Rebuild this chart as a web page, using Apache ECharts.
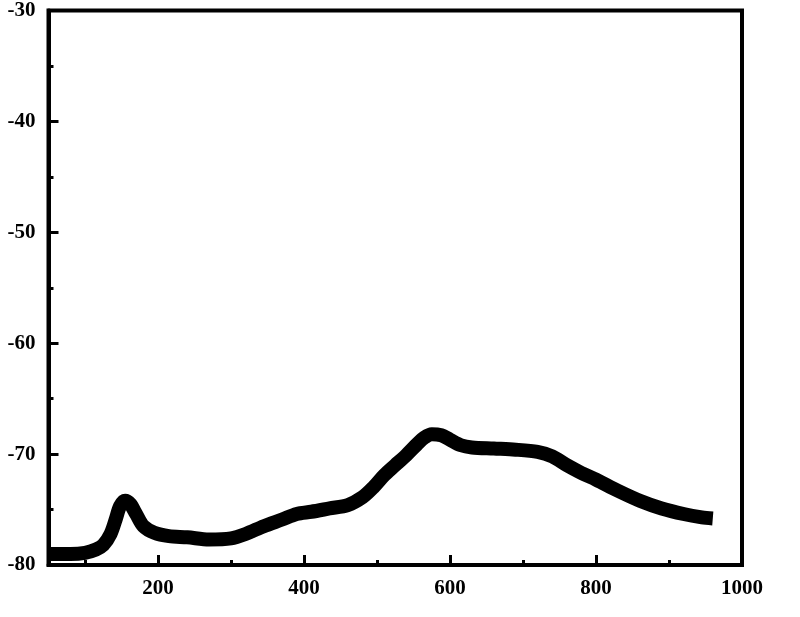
<!DOCTYPE html>
<html>
<head>
<meta charset="utf-8">
<script src="https://cdn.jsdelivr.net/npm/echarts@6/dist/echarts.min.js"></script>
<style>html,body{margin:0;padding:0;background:#fff}#c{width:800px;height:617px}</style>
</head>
<body>
<div id="c"></div>
<script>
const xValues = [50, 80, 100, 115, 125, 135, 142, 148, 155, 162, 170, 180, 195, 215, 240, 270, 300, 320, 345, 370, 390, 410, 435, 460, 480, 495, 510, 525, 540, 555, 565, 575, 588, 600, 615, 630, 660, 690, 720, 740, 760, 780, 800, 830, 860, 890, 920, 945, 960];
const yValues = [-79.0, -79.0, -78.9, -78.6, -78.2, -77.2, -75.9, -74.7, -74.2, -74.5, -75.4, -76.5, -77.1, -77.4, -77.5, -77.7, -77.6, -77.2, -76.5, -75.9, -75.4, -75.2, -74.9, -74.6, -73.9, -73.0, -71.9, -71.0, -70.1, -69.1, -68.5, -68.2, -68.3, -68.7, -69.2, -69.4, -69.5, -69.6, -69.8, -70.2, -71.0, -71.7, -72.3, -73.3, -74.2, -74.9, -75.4, -75.7, -75.8];
const xMajorTicks = [200, 400, 600, 800, 1000];
const xMinorTicks = [100, 300, 500, 700, 900];
const yTickLabels = [-80, -70, -60, -50, -40, -30];

const chart = echarts.init(document.getElementById('c'));
const labelFont = {fontFamily: 'Liberation Serif', fontWeight: 'bold', fontSize: 21, color: '#000'};
chart.setOption({
  animation: false,
  grid: {left: 48.5, right: 58, top: 7, bottom: 52, show: true, borderColor: '#000', borderWidth: 4, containLabel: false},
  xAxis: [{
    type: 'value', min: 50, max: 1000,
    axisLine: {show: true, onZero: false, lineStyle: {color: '#000', width: 4}},
    axisTick: {show: true, inside: true, length: 10, lineStyle: {color: '#000', width: 3}, customValues: xMajorTicks},
    axisLabel: Object.assign({margin: 13, customValues: xMajorTicks, formatter: v => String(v)}, labelFont),
    splitLine: {show: false}
  }, {
    type: 'value', min: 50, max: 1000, position: 'bottom',
    axisLine: {show: false},
    axisTick: {show: true, inside: true, length: 5, lineStyle: {color: '#000', width: 3}, customValues: xMinorTicks},
    axisLabel: {show: false},
    splitLine: {show: false}
  }],
  yAxis: {
    type: 'value', min: -80, max: -30, interval: 10,
    axisLine: {show: true, onZero: false, lineStyle: {color: '#000', width: 4}},
    axisTick: {show: true, inside: true, length: 10, lineStyle: {color: '#000', width: 3}},
    minorTick: {show: true, splitNumber: 2, length: 5, lineStyle: {color: '#000', width: 3}},
    axisLabel: Object.assign({margin: 13, formatter: v => yTickLabels.includes(v) ? String(v) : ''}, labelFont),
    splitLine: {show: false}
  },
  series: [{
    type: 'line', xAxisIndex: 0,
    data: xValues.map((x, i) => [x, yValues[i]]),
    smooth: 0.3, showSymbol: false, symbol: 'none',
    lineStyle: {color: '#000', width: 14, cap: 'butt', join: 'round'}
  }]
});
</script>
</body>
</html>
